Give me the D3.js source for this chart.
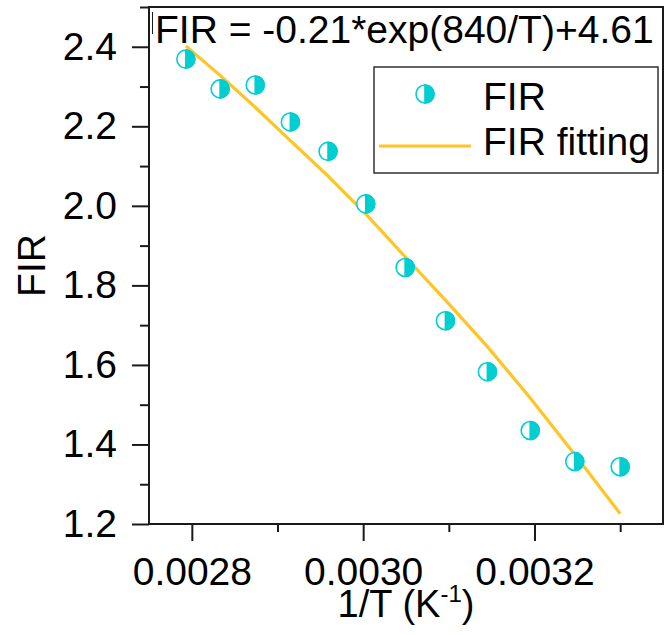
<!DOCTYPE html>
<html>
<head>
<meta charset="utf-8">
<script src="https://cdn.jsdelivr.net/npm/d3@7"></script>
<style>
  html, body { margin: 0; padding: 0; background: #fff; }
  svg { display: block; font-family: "Liberation Sans", Arial, sans-serif; }
</style>
</head>
<body>
<svg id="chart" width="668" height="635"></svg>
<script>
// Inverse temperature (1/T, K^-1) of each measurement
const invT = [0.002793, 0.002833, 0.002874, 0.002915, 0.002959, 0.003003,
              0.003049, 0.003096, 0.003145, 0.003195, 0.003247, 0.003300];
// Measured fluorescence intensity ratio
const firValues = [2.369, 2.294, 2.304, 2.211, 2.137, 2.005,
                   1.845, 1.711, 1.583, 1.435, 1.357, 1.344];
// Fitted curve sampled at the same 1/T values
const fitValues = [2.402, 2.328, 2.248, 2.164, 2.075, 1.980,
                   1.872, 1.763, 1.646, 1.517, 1.375, 1.226];

const xMajor = [0.0028, 0.0030, 0.0032];
const xMinor = [0.0029, 0.0031, 0.0033];
const yMajor = [1.2, 1.4, 1.6, 1.8, 2.0, 2.2, 2.4];
const yMinor = [1.3, 1.5, 1.7, 1.9, 2.1, 2.3, 2.5];

const equationText = "FIR = -0.21*exp(840/T)+4.61";
const legendLabels = ["FIR", "FIR fitting"];

const cyan = "#00CED1";
const gold = "#FFC425";
const ink = "#1a1a1a";

const svg = d3.select("#chart");
const plotL = 149, plotR = 663, plotT = 7, plotB = 524;

const x = d3.scaleLinear().domain([0.00275, 0.00335]).range([plotL, plotR]);
const y = d3.scaleLinear().domain([1.2, 2.5]).range([plotB, plotT]);

// Axes: major ticks with labels, minor ticks without
function styleAxis(g) {
  g.select(".domain").remove();
  g.selectAll(".tick line").attr("stroke", ink).attr("stroke-width", 2);
  g.selectAll(".tick text").attr("fill", "#000").attr("font-size", 39)
    .attr("font-family", "Liberation Sans, Arial, sans-serif");
}

svg.append("g").attr("transform", `translate(0,${plotB})`)
  .call(d3.axisBottom(x).tickValues(xMajor).tickSize(17).tickFormat(d3.format(".4f")))
  .call(styleAxis)
  .call(g => g.selectAll(".tick text").attr("y", 61).attr("dy", 0));
svg.append("g").attr("transform", `translate(0,${plotB})`)
  .call(d3.axisBottom(x).tickValues(xMinor).tickSize(8).tickFormat(""))
  .call(styleAxis);

svg.append("g").attr("transform", `translate(${plotL},0)`)
  .call(d3.axisLeft(y).tickValues(yMajor).tickSize(17).tickPadding(15).tickFormat(d3.format(".1f")))
  .call(styleAxis);
svg.append("g").attr("transform", `translate(${plotL},0)`)
  .call(d3.axisLeft(y).tickValues(yMinor).tickSize(9).tickFormat(""))
  .call(styleAxis);

// Plot frame
svg.append("rect")
  .attr("x", plotL).attr("y", plotT)
  .attr("width", plotR - plotL).attr("height", plotB - plotT)
  .attr("fill", "none").attr("stroke", ink).attr("stroke-width", 2);

// Fitted curve
const line = d3.line().x((d, i) => x(invT[i])).y(d => y(d));
svg.append("path")
  .datum(fitValues)
  .attr("d", line)
  .attr("fill", "none")
  .attr("stroke", gold)
  .attr("stroke-width", 3.2)
  .attr("stroke-linejoin", "round");

// Half-filled circle marker (right half solid)
function marker(g, cx, cy, r) {
  g.append("circle").attr("cx", cx).attr("cy", cy).attr("r", r)
    .attr("fill", "#fff").attr("stroke", cyan).attr("stroke-width", 1.6);
  g.append("path")
    .attr("d", `M${cx},${cy - r} A${r},${r} 0 0 1 ${cx},${cy + r} Z`)
    .attr("fill", cyan).attr("stroke", cyan).attr("stroke-width", 1.6);
}

const pts = svg.append("g");
firValues.forEach((v, i) => marker(pts, x(invT[i]), y(v), 9));

// Equation label
svg.append("line")
  .attr("x1", 152.5).attr("x2", 152.5).attr("y1", 12).attr("y2", 34)
  .attr("stroke", ink).attr("stroke-width", 1);
svg.append("text")
  .attr("x", 155).attr("y", 43)
  .attr("font-size", 39).attr("fill", "#000")
  .text(equationText);

// Legend
const lg = svg.append("g");
lg.append("rect")
  .attr("x", 374).attr("y", 67).attr("width", 284).attr("height", 106)
  .attr("fill", "#fff").attr("stroke", "#333").attr("stroke-width", 1.5);
marker(lg, 425, 94, 9);
lg.append("line")
  .attr("x1", 379).attr("x2", 471).attr("y1", 146).attr("y2", 146)
  .attr("stroke", gold).attr("stroke-width", 3.2);
lg.append("text").attr("x", 483).attr("y", 110).attr("font-size", 39).text(legendLabels[0]);
lg.append("text").attr("x", 483).attr("y", 155).attr("font-size", 39).text(legendLabels[1]);

// Axis titles
const xt = svg.append("text")
  .attr("x", (plotL + plotR) / 2).attr("y", 617)
  .attr("text-anchor", "middle").attr("font-size", 38);
xt.append("tspan").text("1/T (K");
xt.append("tspan").attr("font-size", 24).attr("dy", -15).text("-1");
xt.append("tspan").attr("dy", 15).text(")");

svg.append("text")
  .attr("transform", `translate(45,${(plotT + plotB) / 2}) rotate(-90)`)
  .attr("text-anchor", "middle").attr("font-size", 39)
  .text("FIR");
</script>
</body>
</html>
